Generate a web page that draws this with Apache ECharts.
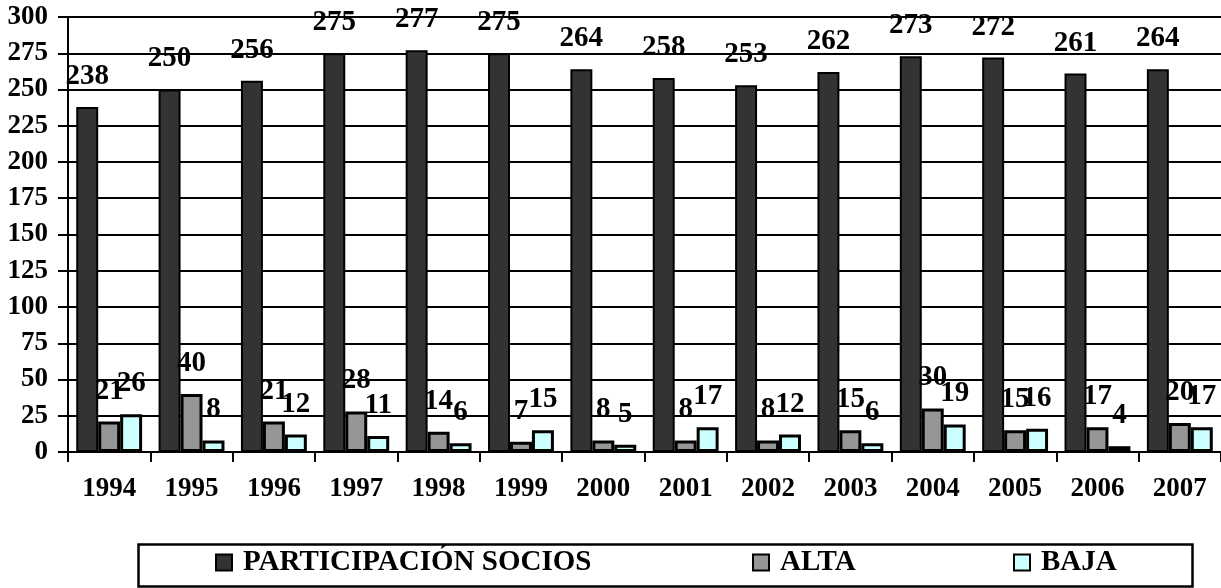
<!DOCTYPE html>
<html>
<head>
<meta charset="utf-8">
<script src="https://cdn.jsdelivr.net/npm/echarts@6/dist/echarts.min.js"></script>
<style>
html,body{margin:0;padding:0;background:#fff;}
#chart{width:1221px;height:588px;}
</style>
</head>
<body>
<div id="chart"></div>
<script>
var years = ['1994','1995','1996','1997','1998','1999','2000','2001','2002','2003','2004','2005','2006','2007'];
var socios = [238,250,256,275,277,275,264,258,253,262,273,272,261,264];
var alta = [21,40,21,28,14,7,8,8,8,15,30,15,17,20];
var baja = [26,8,12,11,6,15,5,17,12,6,19,16,4,17];
var seriesNames = ['PARTICIPACIÓN SOCIOS','ALTA','BAJA'];

var FONT = "'Liberation Serif','Times New Roman',serif";
var chart = echarts.init(document.getElementById('chart'), null, {renderer:'canvas'});

function lbl(){
  return {show:true, position:'top', distance:16, color:'#000', fontFamily:FONT, fontWeight:'bold', fontSize:29};
}

var option = {
  animation:false,
  backgroundColor:'#fff',
  textStyle:{fontFamily:FONT},
  grid:{left:68, right:0, top:17, bottom:136, containLabel:false},
  xAxis:{
    type:'category', data:years,
    axisLine:{show:true, lineStyle:{color:'#000', width:2}},
    axisTick:{show:true, alignWithLabel:false, length:10, lineStyle:{color:'#000', width:2}},
    axisLabel:{color:'#000', fontFamily:FONT, fontWeight:'bold', fontSize:27, margin:24, interval:0},
    splitLine:{show:false}
  },
  yAxis:{
    type:'value', min:0, max:300, interval:25,
    axisLine:{show:true, lineStyle:{color:'#000', width:2}},
    axisTick:{show:true, length:10, lineStyle:{color:'#000', width:2}},
    axisLabel:{color:'#000', fontFamily:FONT, fontWeight:'bold', fontSize:27, margin:20},
    splitLine:{show:true, lineStyle:{color:'#000', width:2}}
  },
  legend:[
    {data:[seriesNames[0]], left:215, top:548, padding:0, itemWidth:16, itemHeight:16, icon:'rect',
     textStyle:{color:'#000', fontFamily:FONT, fontWeight:'bold', fontSize:29, padding:[0,0,0,6]}},
    {data:[seriesNames[1]], left:752, top:548, padding:0, itemWidth:16, itemHeight:16, icon:'rect',
     textStyle:{color:'#000', fontFamily:FONT, fontWeight:'bold', fontSize:29, padding:[0,0,0,6]}},
    {data:[seriesNames[2]], left:1013, top:548, padding:0, itemWidth:16, itemHeight:16, icon:'rect',
     textStyle:{color:'#000', fontFamily:FONT, fontWeight:'bold', fontSize:29, padding:[0,0,0,6]}}
  ],
  graphic:[
    {type:'rect', left:136, top:542, shape:{width:1054, height:42}, style:{fill:'none', stroke:'#000', lineWidth:2.5}, z:-1}
  ],
  series:[
    {name:seriesNames[0], type:'bar', data:socios, barGap:'0%', barCategoryGap:'20%',
     itemStyle:{color:'#333333', borderColor:'#000', borderWidth:2}, label:lbl()},
    {name:seriesNames[1], type:'bar', data:alta,
     itemStyle:{color:'#969696', borderColor:'#000', borderWidth:3}, label:lbl()},
    {name:seriesNames[2], type:'bar', data:baja,
     itemStyle:{color:'#ccffff', borderColor:'#000', borderWidth:3}, label:lbl()}
  ]
};
chart.setOption(option);
</script>
</body>
</html>
